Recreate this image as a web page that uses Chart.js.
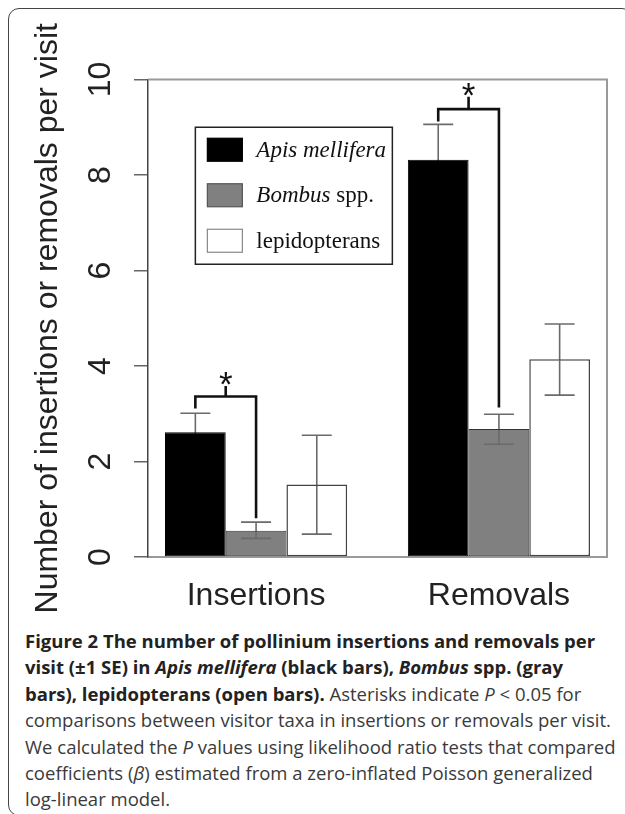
<!DOCTYPE html>
<html>
<head>
<meta charset="utf-8">
<script src="https://cdn.jsdelivr.net/npm/chart.js@4.4.1/dist/chart.umd.min.js"></script>
<style>
  body { margin: 0; background: #fff; width: 625px; height: 814px; overflow: hidden; position: relative; }
  #frame { position: absolute; left: 8px; top: 8px; width: 625px; height: 808px; box-sizing: border-box;
           border: 1.5px solid #444; border-radius: 11px; }
  #chart { position: absolute; left: 0; top: 0; }
  #caption { position: absolute; left: 25px; top: 628px; font-family: "Open Sans", Lato, sans-serif;
             font-size: 18.5px; line-height: 26.4px; color: #3a3a3a; white-space: nowrap; }
  #caption b { color: #222; }
</style>
</head>
<body>
<div id="frame"></div>
<canvas id="chart" width="625" height="625"></canvas>
<div id="caption">
<b>Figure 2 The number of pollinium insertions and removals per</b><br>
<b>visit (±1 SE) in <i>Apis mellifera</i> (black bars), <i>Bombus</i> spp. (gray</b><br>
<b>bars), lepidopterans (open bars).</b> Asterisks indicate <i>P</i> &lt; 0.05 for<br>
comparisons between visitor taxa in insertions or removals per visit.<br>
We calculated the <i>P</i> values using likelihood ratio tests that compared<br>
coefficients (<i>β</i>) estimated from a zero-inflated Poisson generalized<br>
log-linear model.
</div>
<script>
const categories = ["Insertions", "Removals"];
const seriesNames = ["Apis mellifera", "Bombus spp.", "lepidopterans"];
const seriesItalic = ["Apis mellifera", "Bombus", ""];

// means per visit
const apisMean = [2.61, 8.32];
const bombusMean = [0.55, 2.68];
const lepiMean = [1.52, 4.14];

// mean -/+ 1 SE (lower Apis whiskers are hidden inside the black bars)
const apisLow = [2.22, 7.58];
const apisHigh = [3.01, 9.06];
const bombusLow = [0.39, 2.36];
const bombusHigh = [0.73, 2.99];
const lepiLow = [0.48, 3.39];
const lepiHigh = [2.55, 4.88];

const yTicks = [0, 2, 4, 6, 8, 10];

// significance brackets Apis vs Bombus, in y units
const bracketTop = [3.36, 9.38];
const bracketLeftEnd = [3.11, 9.12];
const bracketRightEnd = [0.81, 3.13];
const bracketTick = [3.58, 9.64];
const starLevel = [3.78, 9.82];

// barplot layout like R: bars of width 1, one bar of space before each group
const nSeries = seriesNames.length;
const groupCenter = (i) => 1 + i * (nSeries + 1) + nSeries / 2;
const xFirst = 1;
const xLast = categories.length * (nSeries + 1);
const xPad = 0.04 * (xLast - xFirst);

function makeSet(label, means, low, high, fill, edge, width) {
  return {
    label: label,
    data: means.map((v, i) => ({ x: groupCenter(i), y: v })),
    errLow: low,
    errHigh: high,
    backgroundColor: fill,
    borderColor: edge,
    borderWidth: width,
    borderSkipped: false,
  };
}

const datasets = [
  makeSet(seriesNames[0], apisMean, apisLow, apisHigh, "#000000", "#000000", 1),
  makeSet(seriesNames[1], bombusMean, bombusLow, bombusHigh, "#808080", "#333333", 1),
  makeSet(seriesNames[2], lepiMean, lepiLow, lepiHigh, "#ffffff", "#444444", 1.5),
];

// top and right sides of the box
const boxPlugin = {
  id: "box",
  afterDraw(chart) {
    const { ctx, chartArea: a } = chart;
    ctx.save();
    ctx.strokeStyle = "#9a9a9a";
    ctx.lineWidth = 2;
    ctx.beginPath();
    ctx.moveTo(a.left, a.top);
    ctx.lineTo(a.right, a.top);
    ctx.lineTo(a.right, a.bottom);
    ctx.stroke();
    ctx.restore();
  },
};

const errorBars = {
  id: "errorBars",
  afterDatasetsDraw(chart) {
    const ctx = chart.ctx;
    const y = chart.scales.y;
    ctx.save();
    ctx.globalCompositeOperation = "darken";
    ctx.strokeStyle = "#6a6a6a";
    ctx.lineWidth = 1.6;
    chart.data.datasets.forEach((ds, d) => {
      chart.getDatasetMeta(d).data.forEach((bar, i) => {
        const lo = y.getPixelForValue(ds.errLow[i]);
        const hi = y.getPixelForValue(ds.errHigh[i]);
        ctx.beginPath();
        ctx.moveTo(bar.x, lo);
        ctx.lineTo(bar.x, hi);
        ctx.moveTo(bar.x - 15, lo);
        ctx.lineTo(bar.x + 15, lo);
        ctx.moveTo(bar.x - 15, hi);
        ctx.lineTo(bar.x + 15, hi);
        ctx.stroke();
      });
    });
    ctx.restore();
  },
};

const brackets = {
  id: "brackets",
  afterDatasetsDraw(chart) {
    const ctx = chart.ctx;
    const y = chart.scales.y;
    const a = chart.getDatasetMeta(0).data;
    const b = chart.getDatasetMeta(1).data;
    ctx.save();
    ctx.strokeStyle = "#111";
    ctx.lineWidth = 2.6;
    ctx.fillStyle = "#111";
    ctx.font = '35px "Liberation Sans", Arial, sans-serif';
    ctx.textAlign = "center";
    ctx.textBaseline = "alphabetic";
    categories.forEach((c, i) => {
      const x1 = a[i].x, x2 = b[i].x, xm = (a[i].x + b[i].x) / 2;
      const top = y.getPixelForValue(bracketTop[i]);
      ctx.beginPath();
      ctx.moveTo(x1, y.getPixelForValue(bracketLeftEnd[i]));
      ctx.lineTo(x1, top);
      ctx.lineTo(x2, top);
      ctx.lineTo(x2, y.getPixelForValue(bracketRightEnd[i]));
      ctx.moveTo(xm, top);
      ctx.lineTo(xm, y.getPixelForValue(bracketTick[i]));
      ctx.stroke();
      ctx.fillText("*", xm, y.getPixelForValue(starLevel[i]) + 19);
    });
    ctx.restore();
  },
};

// legend box placed at x = 1.5, y = 9 like R's legend()
const legendBox = {
  id: "legendBox",
  afterDraw(chart) {
    const ctx = chart.ctx;
    const x0 = chart.scales.x.getPixelForValue(1.5);
    const y0 = chart.scales.y.getPixelForValue(9);
    ctx.save();
    ctx.strokeStyle = "#222";
    ctx.lineWidth = 1.5;
    ctx.fillStyle = "#fff";
    ctx.fillRect(x0, y0, 197, 137);
    ctx.strokeRect(x0, y0, 197, 137);
    datasets.forEach((ds, i) => {
      const cy = y0 + 22.5 + i * 45.5;
      ctx.fillStyle = ds.backgroundColor;
      ctx.fillRect(x0 + 12, cy - 11.5, 35, 23);
      ctx.strokeStyle = i === 0 ? "#000" : i === 1 ? "#555" : "#888";
      ctx.lineWidth = 1.2;
      ctx.strokeRect(x0 + 12, cy - 11.5, 35, 23);
      ctx.fillStyle = "#111";
      ctx.textBaseline = "alphabetic";
      ctx.textAlign = "left";
      let tx = x0 + 61;
      const it = seriesItalic[i];
      if (it) {
        ctx.font = 'italic 23px "Liberation Serif", serif';
        ctx.fillText(it, tx, cy + 7);
        tx += ctx.measureText(it).width;
      }
      ctx.font = '23px "Liberation Serif", serif';
      ctx.fillText(seriesNames[i].slice(it.length), tx, cy + 7);
    });
    ctx.restore();
  },
};

Chart.defaults.font.family = '"Liberation Sans", Arial, sans-serif';

new Chart(document.getElementById("chart"), {
  type: "bar",
  data: { datasets: datasets },
  options: {
    responsive: false,
    animation: false,
    layout: { padding: { top: 79.5, right: 18, bottom: 0, left: 0 } },
    datasets: { bar: { categoryPercentage: nSeries / (nSeries + 1), barPercentage: 1 } },
    plugins: { legend: { display: false }, tooltip: { enabled: false } },
    scales: {
      x: {
        type: "linear",
        offset: false,
        bounds: "data",
        min: xFirst - xPad,
        max: xLast + xPad,
        afterBuildTicks: (s) => { s.ticks = categories.map((c, i) => ({ value: groupCenter(i) })); },
        ticks: {
          autoSkip: false,
          maxRotation: 0,
          padding: 20,
          color: "#222",
          font: { size: 32 },
          callback: (v, i) => categories[i],
        },
        grid: { display: false, drawTicks: false, offset: false },
        border: { display: true, color: "#9a9a9a", width: 2 },
        afterFit: (s) => { s.height = 68; },
      },
      y: {
        min: 0,
        max: 10,
        afterBuildTicks: (s) => { s.ticks = yTicks.map((v) => ({ value: v })); },
        ticks: {
          minRotation: 90,
          maxRotation: 90,
          crossAlign: "center",
          padding: 15,
          color: "#222",
          font: { size: 32 },
        },
        grid: { drawOnChartArea: false, tickLength: 14, color: "#666", lineWidth: 1.5 },
        border: { display: true, color: "#444", width: 1.5 },
        title: {
          display: true,
          text: "Number of insertions or removals per visit",
          color: "#222",
          font: { size: 32 },
          padding: { top: 29, bottom: 0 },
        },
        afterFit: (s) => { s.width = 148; },
      },
    },
  },
  plugins: [errorBars, brackets, boxPlugin, legendBox],
});
</script>
</body>
</html>
